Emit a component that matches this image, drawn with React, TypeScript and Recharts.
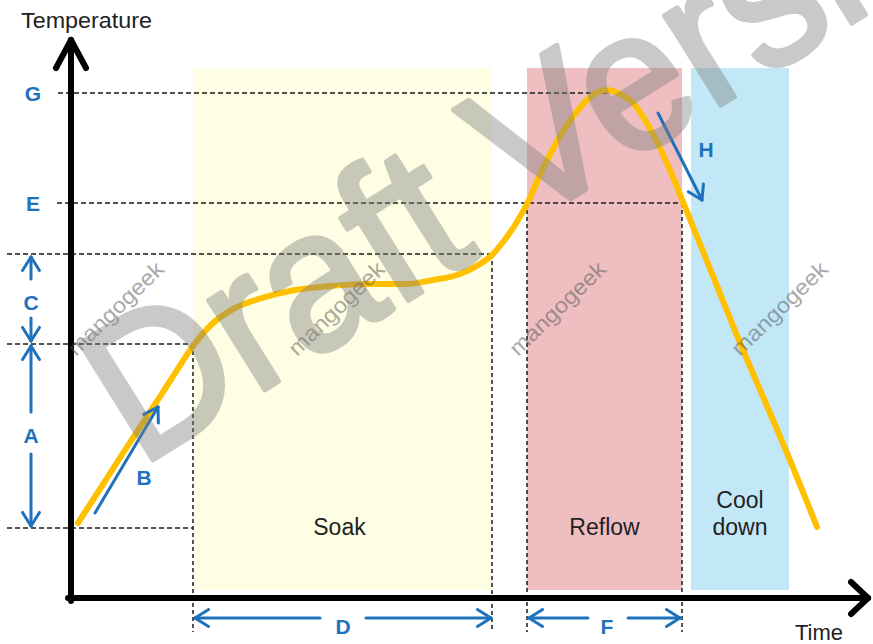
import React from 'react';
import {
  ComposedChart,
  Line,
  XAxis,
  YAxis,
  ReferenceArea,
  ReferenceLine,
  ReferenceDot,
} from 'recharts';

// ---------- data (time units, temperature units) ----------
const curveTime = [
  3.5, 14.5, 27, 39.5, 50.5, 61, 70.5, 82, 95.5, 112, 129.5, 149.5, 167, 181,
  194.5, 204.5, 210.5, 216, 222, 228.5, 236, 243.5, 250.5, 257.5, 263.5, 268,
  274.5, 281, 287, 293, 299.5, 306, 313.5, 321, 336, 348, 358, 366, 373,
];
const curveTemp = [
  37.5, 54.5, 74, 93, 110, 126, 137, 145, 150, 154, 156, 157, 157, 159, 162,
  167, 171.5, 178, 186.5, 198, 215, 229, 240, 248.5, 253, 254, 252, 247.5, 239,
  228, 214, 198, 179.5, 161, 124, 96, 72.5, 53, 35.5,
];

const zoneNames = ['Soak', 'Reflow', 'Cool down'];
const zoneStart = [61, 228, 310];
const zoneEnd = [210.5, 305.5, 359];
const zoneTop = 265;
const zoneBottom = 4;
const zoneColors = ['#FEFEE4', '#EEBEC0', '#C2E8F8'];

// temperature levels
const levelNames = ['G', 'E'];
const levelG = 252.5;
const levelE = 197.5;
const levelSoakEnd = 172;
const levelPreheatEnd = 127;
const levelStart = 35;
const peakTime = 268;

const axisTitles = ['Temperature', 'Time'];

const data = curveTime.map((t, i) => ({ t, temp: curveTemp[i] }));

// ---------- styling ----------
const FONT = '"Liberation Sans", Arial, sans-serif';
const BLUE = '#1E72BC';
const DASH_COLOR = '#1a1a1a';

type P = [number, number];

function seg(key: string, a: P, b: P, stroke: string, width: number, dash?: string) {
  return (
    <ReferenceLine
      key={key}
      segment={[
        { x: a[0], y: a[1] },
        { x: b[0], y: b[1] },
      ]}
      stroke={stroke}
      strokeWidth={width}
      strokeDasharray={dash}
      strokeLinecap={dash ? 'butt' : 'round'}
      ifOverflow="visible"
    />
  );
}

function arrow(key: string, from: P, to: P, color: string, width: number, len: number, ang: number) {
  const out = [seg(key + '-s', from, to, color, width)];
  const dx = to[0] - from[0];
  const dy = to[1] - from[1];
  const d = Math.hypot(dx, dy);
  const ux = dx / d;
  const uy = dy / d;
  const a = (ang * Math.PI) / 180;
  for (const s of [1, -1]) {
    const rx = ux * Math.cos(s * a) - uy * Math.sin(s * a);
    const ry = ux * Math.sin(s * a) + uy * Math.cos(s * a);
    out.push(seg(key + '-h' + s, to, [to[0] - len * rx, to[1] - len * ry], color, width));
  }
  return out;
}

function label(
  key: string,
  x: number,
  y: number,
  value: string,
  opts: {
    size?: number;
    color?: string;
    anchor?: 'start' | 'middle' | 'end';
    weight?: string | number;
    rotate?: number;
    scaleX?: number;
    opacity?: number;
    textLength?: number;
    baseline?: string;
    outline?: number;
  } = {}
) {
  const {
    size = 22,
    color = '#222',
    anchor = 'middle',
    weight = 'normal',
    rotate = 0,
    scaleX = 1,
    opacity = 1,
    textLength,
    baseline = 'central',
    outline = 0,
  } = opts;
  return (
    <ReferenceDot
      key={key}
      x={x}
      y={y}
      r={1}
      ifOverflow="visible"
      shape={(p: any) => (
        <text
          x={0}
          y={0}
          fontFamily={FONT}
          fontSize={size}
          fill={color}
          opacity={opacity}
          stroke={outline ? color : 'none'}
          strokeWidth={outline}
          strokeLinejoin="round"
          fontWeight={weight}
          textAnchor={anchor}
          dominantBaseline={baseline}
          transform={`translate(${p.cx} ${p.cy}) rotate(${rotate}) scale(${scaleX} 1)`}
          textLength={textLength}
          lengthAdjust={textLength ? 'spacingAndGlyphs' : undefined}
        >
          {value}
        </text>
      )}
    />
  );
}

const watermarkSmallTimes = [2.5, 113, 223.5, 334.5];
const watermarkSmallTemp = 120.5;

export default function App() {
  const [soakName, reflowName] = zoneNames;
  return (
    <div style={{ width: 873, height: 644 }}>
      <style>{`body{margin:0;}`}</style>
      <ComposedChart
        width={873}
        height={644}
        data={data}
        margin={{ top: 38, right: 2, bottom: 46, left: 71 }}
      >
        <XAxis type="number" dataKey="t" domain={[0, 400]} hide allowDataOverflow />
        <YAxis type="number" domain={[0, 280]} hide allowDataOverflow />

        {zoneNames.map((n, i) => (
          <ReferenceArea
            key={'z' + n}
            x1={zoneStart[i]}
            x2={zoneEnd[i]}
            y1={zoneBottom}
            y2={zoneTop}
            fill={zoneColors[i]}
            fillOpacity={1}
            stroke="none"
            ifOverflow="visible"
          />
        ))}

        {/* dashed guide lines */}
        {seg('dG', [-6.5, levelG], [peakTime, levelG], DASH_COLOR, 1.5, '5 3')}
        {seg('dE', [-7, levelE], [zoneEnd[1], levelE], DASH_COLOR, 1.5, '5 3')}
        {seg('dS', [-32, levelSoakEnd], [zoneEnd[0], levelSoakEnd], DASH_COLOR, 1.5, '5 3')}
        {seg('dP', [-32, levelPreheatEnd], [zoneStart[0], levelPreheatEnd], DASH_COLOR, 1.5, '5 3')}
        {seg('dB', [-32, levelStart], [zoneStart[0], levelStart], DASH_COLOR, 1.5, '5 3')}
        {seg('v1', [zoneStart[0], levelPreheatEnd], [zoneStart[0], -17], DASH_COLOR, 1.5, '4 3')}
        {seg('v2', [zoneEnd[0], levelSoakEnd], [zoneEnd[0], -17], DASH_COLOR, 1.5, '4 3')}
        {seg('v3', [zoneStart[1], levelE], [zoneStart[1], -17], DASH_COLOR, 1.5, '4 3')}
        {seg('v4', [zoneEnd[1], levelE], [zoneEnd[1], -17], DASH_COLOR, 1.5, '4 3')}

        {/* axes arrows */}
        {seg('yax', [0, -1.5], [0, 279], '#000', 6)}
        {seg('yaxL', [0, 279], [-7.5, 265], '#000', 6)}
        {seg('yaxR', [0, 279], [7.5, 265], '#000', 6)}
        {seg('xax', [-1.5, 0], [398.5, 0], '#000', 6)}
        {seg('xaxU', [398.5, 0], [390, 8], '#000', 6)}
        {seg('xaxD', [398.5, 0], [390, -8], '#000', 6)}

        <Line
          dataKey="temp"
          type="monotone"
          stroke="#FFC000"
          strokeWidth={6}
          strokeLinecap="round"
          strokeLinejoin="round"
          dot={false}
          activeDot={false}
          isAnimationActive={false}
        />

        {/* blue dimension arrows */}
        {arrow('cUp', [-20, 159.5], [-20, 170.5], BLUE, 3, 8, 32)}
        {arrow('cDn', [-20, 140], [-20, 128.5], BLUE, 3, 8, 32)}
        {arrow('aUp', [-20, 93], [-20, 126], BLUE, 3, 8, 32)}
        {arrow('aDn', [-20, 72], [-20, 36], BLUE, 3, 8, 32)}
        {arrow('dL', [124.5, -10], [62, -10], BLUE, 3, 8, 32)}
        {arrow('dR', [147.5, -10], [210, -10], BLUE, 3, 8, 32)}
        {arrow('fL', [258.5, -10], [229, -10], BLUE, 3, 8, 32)}
        {arrow('fR', [278.5, -10], [304.5, -10], BLUE, 3, 8, 32)}
        {arrow('b', [12, 42.5], [43.5, 95.5], BLUE, 3, 8, 32)}
        {arrow('h', [293.5, 242.5], [315.5, 199], BLUE, 3, 8, 32)}

        {label('lG', -19, levelG, levelNames[0], { color: BLUE, weight: 'bold', size: 21 })}
        {label('lE', -19, levelE, levelNames[1], { color: BLUE, weight: 'bold', size: 21 })}
        {label('lC', -20, 148, 'C', { color: BLUE, weight: 'bold', size: 21 })}
        {label('lA', -20, 81.5, 'A', { color: BLUE, weight: 'bold', size: 21 })}
        {label('lB', 36.5, 60.5, 'B', { color: BLUE, weight: 'bold', size: 21 })}
        {label('lH', 317.5, 224.5, 'H', { color: BLUE, weight: 'bold', size: 21 })}
        {label('lD', 136, -14, 'D', { color: BLUE, weight: 'bold', size: 21 })}
        {label('lF', 268, -14, 'F', { color: BLUE, weight: 'bold', size: 21 })}

        {label('zS', (zoneStart[0] + zoneEnd[0]) / 2 - 1.5, 35.5, soakName, { size: 23 })}
        {label('zR', (zoneStart[1] + zoneEnd[1]) / 2, 35.5, reflowName, { size: 23 })}
        {label('zC1', (zoneStart[2] + zoneEnd[2]) / 2, 49, 'Cool', { size: 23 })}
        {label('zC2', (zoneStart[2] + zoneEnd[2]) / 2, 35.5, 'down', { size: 23 })}

        {label('tY', -25, 285, axisTitles[0], { size: 22, anchor: 'start', baseline: 'alphabetic', textLength: 131 })}
        {label('tX', 362, -21, axisTitles[1], { size: 22, anchor: 'start', baseline: 'alphabetic' })}

        {/* watermarks */}
        {watermarkSmallTimes.map((t, i) =>
          label('wm' + i, t, watermarkSmallTemp, 'mangogeek', {
            size: 22,
            color: '#555',
            opacity: 0.5,
            anchor: 'start',
            baseline: 'alphabetic',
            rotate: -44,
            textLength: 124,
          })
        )}
        {label('draft', 34.5, 65, 'Draft Version', {
          size: 200,
          color: '#808080',
          opacity: 0.42,
          anchor: 'start',
          baseline: 'alphabetic',
          rotate: -32,
          scaleX: 0.93,
          outline: 5,
        })}
      </ComposedChart>
    </div>
  );
}
